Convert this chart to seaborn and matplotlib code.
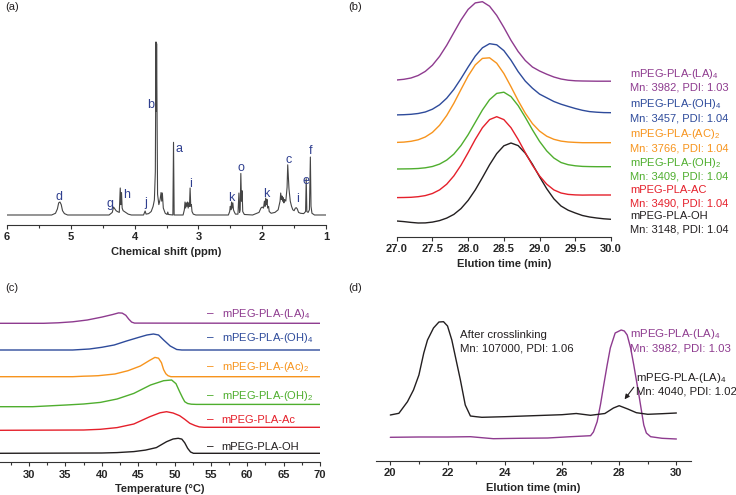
import pandas as pd
import matplotlib.pyplot as plt
import seaborn as sns
from matplotlib.ticker import MultipleLocator, FormatStrFormatter

sns.set_theme(style="ticks")
plt.rcParams["font.family"] = ["Liberation Sans", "DejaVu Sans"]
plt.rcParams["mathtext.fontset"] = "custom"
plt.rcParams["mathtext.rm"] = "Liberation Sans"
plt.rcParams["mathtext.it"] = "Liberation Sans:italic"
plt.rcParams["mathtext.bf"] = "Liberation Sans:bold"

PURPLE, BLUE, ORANGE, GREEN, RED, BLACK = "#8e3b8f", "#2e4b9b", "#f7941d", "#4fae2e", "#e5202b", "#231f20"
AXIS = "#333333"

# --- (a) 1H NMR ---
nmr_ppm = [
    6.00, 5.30, 5.24, 5.21, 5.19, 5.17, 5.15, 5.13, 5.10, 5.05,
    4.40, 4.35, 4.33, 4.31, 4.29, 4.27, 4.24, 4.225, 4.215, 4.205, 4.195, 4.18, 4.16, 4.14, 4.10, 4.05,
    3.86, 3.835, 3.82, 3.78, 3.74, 3.71, 3.69, 3.675, 3.665, 3.66, 3.655, 3.64, 3.62, 3.60, 3.585, 3.575,
    3.565, 3.55, 3.52, 3.49, 3.48, 3.47,
    3.40, 3.39, 3.38,
    3.24, 3.22, 3.21, 3.20, 3.19, 3.18, 3.17, 3.16, 3.15, 3.14, 3.13, 3.12, 3.11, 3.10, 3.08, 3.04,
    2.53, 2.51, 2.50, 2.49, 2.48, 2.47, 2.46, 2.45, 2.44, 2.42,
    2.38, 2.365, 2.355, 2.345, 2.335, 2.325, 2.315, 2.305, 2.28,
    2.15, 2.05, 2.02, 2.00, 1.98, 1.965, 1.955, 1.945, 1.935, 1.925, 1.915, 1.90, 1.89, 1.86,
    1.80, 1.75, 1.72, 1.71, 1.70, 1.69, 1.68, 1.67, 1.66, 1.65, 1.63, 1.61, 1.60, 1.59, 1.58, 1.56, 1.54, 1.52,
    1.50, 1.48, 1.465, 1.45, 1.43, 1.40,
    1.35, 1.32, 1.31, 1.30, 1.28, 1.26, 1.245, 1.235, 1.22, 1.18, 1.00,
]
nmr_int = [
    0, 0, 1.0, 3.5, 7.0, 7.5, 6.0, 2.5, 0.8, 0,
    0, 1.5, 4.6, 3.5, 2.5, 2.0, 1.5, 15.6, 6, 13, 4, 2.5, 2, 1.5, 0.5, 0,
    0, 2.3, 0.5, 0.8, 2, 5, 8.7, 25, 100, 60, 99, 12, 6, 9, 13, 8,
    12.7, 4, 1, 0.3, 1.7, 0.3,
    0, 42, 0,
    0, 3, 7.5, 4, 7, 5, 7.5, 4, 7, 5, 15.6, 5, 6, 2, 0.5, 0,
    0, 2, 5, 3, 7.5, 4, 7, 3, 2, 0.5,
    0.5, 12.7, 1.5, 3, 24, 8, 14, 2, 0.3,
    0, 1.5, 4, 4.6, 4, 8, 5, 9.8, 6, 9, 4, 5, 2, 1,
    1.5, 3, 8, 12.7, 9, 11, 8, 10, 7, 9, 8, 16, 29, 22, 15, 8, 5, 3,
    2.5, 4, 4.2, 3.5, 1.5, 1,
    0.8, 2, 21, 2, 1.5, 3, 33.5, 5, 1, 0, 0,
]
peak_names = ["d", "g", "h", "j", "b", "a", "i", "k", "o", "k", "c", "i", "e", "f"]
peak_name_ppm = [5.18, 4.38, 4.12, 3.83, 3.75, 3.30, 3.13, 2.48, 2.33, 1.94, 1.58, 1.45, 1.31, 1.24]
peak_name_int = [8.7, 4.4, 9.6, 5.2, 61.7, 36.6, 16.4, 8.3, 25.6, 10.6, 30.2, 7.7, 17.9, 35.3]

# --- (b) GPC traces ---
gpc_time = [27.0, 27.1, 27.2, 27.3, 27.4, 27.5, 27.6, 27.7, 27.8, 27.9, 28.0, 28.1, 28.2, 28.3, 28.4, 28.5,
            28.6, 28.7, 28.8, 28.9, 29.0, 29.1, 29.2, 29.3, 29.4, 29.5, 29.6, 29.7, 29.8, 29.9, 30.0]
gpc_oh = [0, -0.6, -1.4, -2.0, -1.9, -1.1, 0.4, 2.9, 6.6, 12.4, 20.6, 31.1, 43.4, 56.2, 67.4, 75.2,
          78.0, 75.4, 67.8, 56.8, 44.2, 32.3, 22.2, 15.0, 10.8, 8.0, 5.5, 4.0, 3.0, 2.2, 1.7]
gpc_ac = [0.1, 0.2, 0.4, 1.0, 2.1, 4.2, 7.8, 13.5, 21.8, 32.5, 45.1, 58.3, 70.0, 78.1, 81.0, 78.1,
          70.0, 58.3, 45.1, 32.5, 21.8, 13.5, 7.8, 4.7, 3.3, 2.8, 2.6, 2.7, 2.7, 2.7, 2.7]
gpc_oh2 = [0, 0.1, 0.2, 0.5, 1.2, 2.5, 4.9, 8.9, 14.9, 23.5, 34.3, 46.7, 59.0, 69.3, 75.6, 76.8,
           72.4, 63.4, 51.7, 39.2, 27.6, 18.1, 11.0, 6.5, 4.3, 3.2, 2.6, 2.4, 2.3, 2.3, 2.3]
gpc_ac2 = [0.3, 0.6, 1.4, 2.9, 5.7, 10.3, 17.4, 27.2, 39.4, 53.2, 66.7, 77.8, 84.3, 84.9, 79.5, 69.2,
           56.0, 42.1, 29.5, 19.1, 11.6, 6.5, 3.4, 1.6, 0.7, 0.3, 0, 0, 0, 0, 0]
gpc_oh4 = [0.1, 0.3, 0.7, 1.5, 3.0, 5.8, 10.2, 16.8, 25.6, 36.4, 48.0, 58.9, 67.2, 71.3, 70.2, 64.4,
           54.8, 43.4, 33.9, 26.8, 20.9, 17.2, 13.5, 10.8, 8.6, 6.5, 4.7, 3.4, 2.8, 2.4, 2.3]
gpc_la4 = [0.5, 1.2, 2.5, 5.0, 9.1, 15.3, 24.1, 35.2, 47.9, 60.5, 71.1, 77.6, 78.8, 74.3, 65.1, 53.1,
           40.2, 29.0, 20.0, 13.5, 9.5, 6.3, 3.5, 1.5, 0.3, -0.3, -0.5, -0.6, -0.7, -0.7, -0.7]
gpc_names = ["mPEG-PLA-OH", "mPEG-PLA-AC", "mPEG-PLA-(OH)$_2$", "mPEG-PLA-(AC)$_2$",
             "mPEG-PLA-(OH)$_4$", "mPEG-PLA-(LA)$_4$"]
gpc_mn = ["Mn: 3148, PDI: 1.04", "Mn: 3490, PDI: 1.04", "Mn: 3409, PDI: 1.04", "Mn: 3766, PDI: 1.04",
          "Mn: 3457, PDI: 1.04", "Mn: 3982, PDI: 1.03"]

# --- (c) DSC traces ---
dsc_names = ["mPEG-PLA-OH", "mPEG-PLA-Ac", "mPEG-PLA-(OH)$_2$", "mPEG-PLA-(Ac)$_2$",
             "mPEG-PLA-(OH)$_4$", "mPEG-PLA-(LA)$_4$"]
dsc_oh_t = [26, 40, 42.1, 44.4, 46, 47.5, 48.9, 49.8, 50.5, 51.0, 51.4, 51.8, 52.2, 52.6, 70]
dsc_oh = [0, 0.3, 0.7, 1.7, 3.2, 5.7, 11.6, 14.3, 15, 14.2, 10.5, 5, 1.3, 0, 0]
dsc_ac_t = [26, 37.5, 39.8, 42.1, 44.4, 46.6, 48, 48.9, 49.8, 50.7, 51.4, 52.1, 52.8, 53.4, 54.1, 70]
dsc_ac = [0, 0.3, 1, 2.7, 6.3, 13.6, 17.5, 18.6, 17.3, 14.6, 11, 7, 4.8, 3.4, 3.0, 3.0]
dsc_oh2_t = [26, 30.5, 35.1, 37.5, 39.8, 42.1, 44.4, 46.7, 48.5, 49.6, 50.2, 50.7, 51.1, 51.4, 51.8, 52.3, 53, 70]
dsc_oh2 = [0, 0, 1.7, 2.7, 4.3, 7.7, 13.3, 21.7, 26, 26.7, 23, 15, 9, 5, 3.2, 2.5, 2.3, 2.3]
dsc_ac2_t = [26, 36, 37.5, 38.5, 39.5, 41.8, 43.6, 45.3, 46.5, 47.3, 47.8, 48.2, 48.5, 48.8, 49.1, 49.5, 70]
dsc_ac2 = [0, 0, 0.5, 0.7, 1, 2.7, 6, 10.7, 16, 19.3, 18.5, 14, 7, 3, 1, 0, 0]
dsc_oh4_t = [26, 36, 38.3, 40, 41.7, 43.4, 45.1, 46.2, 47.1, 47.8, 48.5, 49.4, 50.3, 51, 70]
dsc_oh4 = [0, 0, 1, 2.7, 5, 9, 12.7, 15, 16, 15, 10, 4, 0.5, 0, 0]
dsc_la4_t = [26, 32, 34, 36, 38, 40, 41.5, 42.3, 42.8, 43.3, 43.7, 44.1, 44.5, 70]
dsc_la4 = [0, 0, 0.5, 1.5, 3.3, 6.2, 8.8, 10.4, 10.2, 8.0, 4.2, 1.2, 0.2, 0]

# --- (d) crosslinking GPC ---
xl_time = [20.0, 20.3, 20.6, 20.81, 21.0, 21.17, 21.3, 21.51, 21.7, 21.86, 22.0, 22.15, 22.3, 22.45, 22.62,
           22.8, 23.0, 23.2, 24.0, 25.0, 26.0, 26.5, 27.0, 27.5, 27.8, 28.0, 28.3, 28.6, 29.0, 29.5, 30.0]
xl_signal = [46, 47.7, 59.3, 71, 86, 108, 121, 133, 139, 139.3, 135, 121, 101, 81, 56,
             45, 44.3, 43.7, 44.3, 45.3, 46.3, 47.5, 45.7, 47.5, 53, 55.3, 52, 48.3, 46.7, 47.3, 48]
la4_time = [20.0, 21.0, 22.0, 22.8, 23.6, 24.5, 25.5, 26.3, 27.0, 27.1, 27.23, 27.35, 27.46, 27.58, 27.69,
            27.86, 28.07, 28.18, 28.28, 28.4, 28.51, 28.6, 28.69, 28.78, 28.86, 28.95, 29.1, 29.5, 30.0]
la4_signal = [23.7, 24.0, 24.0, 24.3, 22.3, 22.7, 23.0, 24.3, 25.3, 29, 39.3, 57, 76, 96, 113,
              128, 131, 130, 126, 113, 96, 81, 66, 50, 36, 28, 24.3, 22.7, 22.0]

colors = [BLACK, RED, GREEN, ORANGE, BLUE, PURPLE]

fig = plt.figure(figsize=(7.36, 4.95), dpi=100)


def px_axes(l, t, r, b):
    return fig.add_axes([l / 736, 1 - b / 495, (r - l) / 736, (b - t) / 495])


def style(ax, xlabel):
    sns.despine(ax=ax, left=True)
    ax.spines["bottom"].set_color(AXIS)
    ax.spines["bottom"].set_linewidth(0.8)
    ax.set_yticks([])
    ax.set_ylabel("")
    ax.tick_params(axis="x", which="major", length=3.1, width=0.8, color=AXIS, pad=2.3, labelsize=8)
    ax.tick_params(axis="x", which="minor", length=1.8, width=0.8, color=AXIS)
    for lab in ax.get_xticklabels():
        lab.set_fontweight("bold")
    ax.set_xlabel(xlabel, fontsize=8, fontweight="bold", labelpad=3)
    ax.set_facecolor("none")


# (a)
ax = px_axes(7, 30, 326, 225)
sns.lineplot(x=nmr_ppm, y=nmr_int, ax=ax, color="#454545", linewidth=0.8, estimator=None, sort=False)
ax.set_xlim(6, 1)
ax.set_ylim(-5.78, 106.9)
ax.xaxis.set_major_locator(MultipleLocator(1))
ax.xaxis.set_minor_locator(MultipleLocator(0.5))
ax.xaxis.set_major_formatter(FormatStrFormatter("%d"))
style(ax, "Chemical shift (ppm)")
for name, p, i in zip(peak_names, peak_name_ppm, peak_name_int):
    ax.text(p, i, name, color="#2f3f8f", fontsize=9, ha="center", va="baseline")

# (b)
gpc_sets = [gpc_oh, gpc_ac, gpc_oh2, gpc_ac2, gpc_oh4, gpc_la4]
gpc_offsets = [16, 39.3, 68, 94.3, 122, 156.5]
gpc_df = pd.concat([
    pd.DataFrame({"time": gpc_time, "signal": [v + off for v in vals], "sample": name})
    for name, vals, off in zip(gpc_names, gpc_sets, gpc_offsets)
])
ax = px_axes(396.7, 0, 611, 237)
sns.lineplot(data=gpc_df, x="time", y="signal", hue="sample", palette=colors, ax=ax,
             linewidth=1.0, legend=False, estimator=None)
ax.set_xlim(27, 30)
ax.set_ylim(0, 237)
ax.xaxis.set_major_locator(MultipleLocator(0.5))
ax.xaxis.set_major_formatter(FormatStrFormatter("%.1f"))
style(ax, "Elution time (min)")
name_h = [17.8, 43.8, 71.3, 99.8, 130.3, 160.3]
mn_h = [4.3, 30.3, 57.3, 85.3, 115.3, 146.0]
for name, mn, c, hn, hm in zip(gpc_names, gpc_mn, colors, name_h, mn_h):
    ax.text(30.27, hn, name, color=c, fontsize=8, va="baseline", clip_on=False)
    ax.text(30.27, hm, mn, color=c, fontsize=8, va="baseline", clip_on=False)

# (c)
dsc_sets = [(dsc_oh_t, dsc_oh), (dsc_ac_t, dsc_ac), (dsc_oh2_t, dsc_oh2),
            (dsc_ac2_t, dsc_ac2), (dsc_oh4_t, dsc_oh4), (dsc_la4_t, dsc_la4)]
dsc_offsets = [9, 32, 55.6, 85.6, 112.3, 139]
dsc_df = pd.concat([
    pd.DataFrame({"T": t, "flow": [v + off for v in vals], "sample": name})
    for name, (t, vals), off in zip(dsc_names, dsc_sets, dsc_offsets)
])
ax = px_axes(0, 300, 320, 462.3)
sns.lineplot(data=dsc_df, x="T", y="flow", hue="sample", palette=colors, ax=ax,
             linewidth=1.0, legend=False, estimator=None)
ax.set_xlim(26, 70)
ax.set_ylim(0, 162.3)
ax.xaxis.set_major_locator(MultipleLocator(5))
ax.xaxis.set_minor_locator(MultipleLocator(2.5))
ax.xaxis.set_major_formatter(FormatStrFormatter("%d"))
style(ax, "Temperature (°C)")
legend_h = [15.6, 42.3, 66.3, 95.6, 124.0, 148.3]
for name, c, y in zip(dsc_names, colors, legend_h):
    ax.text(54.4, y, "–", color=c, fontsize=8.5, va="center")
    ax.text(56.47, y, name, color=c, fontsize=8, va="center")

# (d)
ax = px_axes(376, 300, 690.7, 461)
sns.lineplot(x=la4_time, y=la4_signal, ax=ax, color=PURPLE, linewidth=1.0, estimator=None)
sns.lineplot(x=xl_time, y=xl_signal, ax=ax, color=BLACK, linewidth=1.0, estimator=None)
ax.set_xlim(19.5, 30.5)
ax.set_ylim(0, 161)
ax.xaxis.set_major_locator(MultipleLocator(2))
ax.xaxis.set_minor_locator(MultipleLocator(1))
ax.xaxis.set_major_formatter(FormatStrFormatter("%d"))
style(ax, "Elution time (min)")
ax.text(22.45, 123.3, "After crosslinking", color=BLACK, fontsize=8.2, va="baseline")
ax.text(22.45, 109.3, "Mn: 107000, PDI: 1.06", color=BLACK, fontsize=8.2, va="baseline")
ax.text(28.39, 124.3, "mPEG-PLA-(LA)$_4$", color=PURPLE, fontsize=8.2, va="baseline")
ax.text(28.39, 109.3, "Mn: 3982, PDI: 1.03", color=PURPLE, fontsize=8.2, va="baseline")
ax.text(28.6, 80.3, "mPEG-PLA-(LA)$_4$", color=BLACK, fontsize=8.2, va="baseline", clip_on=False)
ax.text(28.6, 66, "Mn: 4040, PDI: 1.02", color=BLACK, fontsize=8.2, va="baseline", clip_on=False)
ax.annotate("", xy=(28.13, 59.5), xytext=(28.57, 76),
            arrowprops=dict(arrowstyle="-|>", color=BLACK, lw=0.8, mutation_scale=7))

# panel letters
for lab, x, y in [("(a)", 5, 7), ("(b)", 348, 7), ("(c)", 5, 288), ("(d)", 348, 288)]:
    fig.text(x / 736, 1 - y / 495, lab, fontsize=8, va="center", color=BLACK)

fig.savefig("out.png", dpi=100)
